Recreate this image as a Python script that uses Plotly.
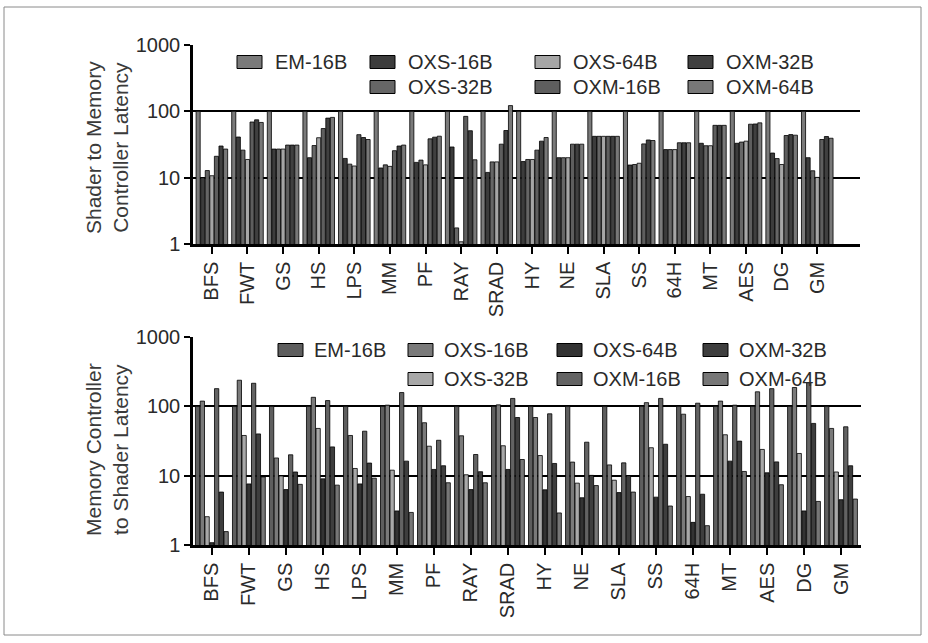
import plotly.graph_objects as go

categories = ["BFS", "FWT", "GS", "HS", "LPS", "MM", "PF", "RAY", "SRAD",
              "HY", "NE", "SLA", "SS", "64H", "MT", "AES", "DG", "GM"]
series_names = ["EM-16B", "OXS-16B", "OXS-32B", "OXS-64B", "OXM-16B", "OXM-32B", "OXM-64B"]

# Shader to Memory Controller latency (top)
top_em16 = [100] * 18
top_oxs16 = [10, 41, 27, 20, 19.5, 14, 17, 29, 12, 17.5, 20, 42, 15.5, 26.5, 33, 33, 23.5, 20]
top_oxs32 = [12.8, 26, 27, 30.5, 16, 15.6, 18.4, 1.75, 17.3, 18.8, 20, 42, 15.8, 26.5, 30.3, 34.4, 19.4, 12.7]
top_oxs64 = [10.7, 18.8, 27, 40, 15, 14.8, 15.6, 1.08, 17.3, 18.8, 20, 42, 16.5, 26.5, 30.3, 35.5, 15.8, 10.1]
top_oxm16 = [21, 69, 31, 55, 44.5, 25.5, 38.5, 84, 32, 26, 32, 42, 32.3, 33.6, 61.5, 64, 43.2, 37.6]
top_oxm32 = [30, 74.5, 31, 79, 40.3, 30, 40.8, 51, 51.4, 35.5, 32, 42, 37, 33.6, 61.5, 64.5, 44.6, 41.7]
top_oxm64 = [27, 68, 31, 81, 37.6, 31, 42.2, 18.6, 122, 40.3, 32, 42, 36.3, 33.6, 61.5, 67, 43.7, 39.3]

# Memory Controller to Shader latency (bottom)
bot_em16 = [100] * 18
bot_oxs16 = [119, 238, 18, 135, 38, 104, 58, 37.6, 105, 69, 15.7, 14.3, 113, 77, 119, 162, 187, 48]
bot_oxs32 = [2.56, 38, 9.9, 48, 12.7, 12, 26.6, 10.3, 27, 19.5, 7.8, 8.6, 25.3, 5, 38.9, 23.9, 20.9, 11.3]
bot_oxs64 = [1.08, 7.6, 6.3, 9, 7.6, 3.1, 12.3, 6.3, 12.3, 6.25, 4.8, 5.7, 4.9, 2.12, 16.2, 11, 3.1, 4.5]
bot_oxm16 = [180, 215, 20, 121, 43.8, 158, 32.4, 20.2, 130, 78, 30.4, 15.3, 130, 111, 104, 180, 220, 50.7]
bot_oxm32 = [5.8, 40, 11.3, 26, 15.2, 16.2, 13.9, 11.4, 69, 15, 10.1, 10, 28.4, 5.4, 31.5, 15.8, 56.7, 13.9]
bot_oxm64 = [1.56, 9.6, 7.5, 7.3, 9.2, 2.95, 7.9, 7.9, 17.1, 2.9, 7.2, 5.8, 3.65, 1.9, 11.5, 7.4, 4.25, 4.6]

top_values = [top_em16, top_oxs16, top_oxs32, top_oxs64, top_oxm16, top_oxm32, top_oxm64]
bot_values = [bot_em16, bot_oxs16, bot_oxs32, bot_oxs64, bot_oxm16, bot_oxm32, bot_oxm64]

top_colors = ["#7a7a7a", "#3c3c3c", "#666666", "#a6a6a6", "#5e5e5e", "#404040", "#787878"]
bot_colors = ["#5e5e5e", "#7a7a7a", "#a8a8a8", "#333333", "#636363", "#3e3e3e", "#777777"]

y_tickvals = [1, 10, 100, 1000]
y_ticktext = ["1", "10", "100", "1000"]

W, H = 928, 643
FONT = "Liberation Sans, Arial, sans-serif"
TXT = "#2a2a2a"

def px(x):
    return x / W

def py(y):
    return 1 - y / H

fig = go.Figure()
for name, vals, col in zip(series_names, top_values, top_colors):
    fig.add_trace(go.Bar(x=categories, y=vals, name=name, marker=dict(color=col, line=dict(color="black", width=0.8)),
                         xaxis="x", yaxis="y", showlegend=False))
for name, vals, col in zip(series_names, bot_values, bot_colors):
    fig.add_trace(go.Bar(x=categories, y=vals, name=name, marker=dict(color=col, line=dict(color="black", width=0.8)),
                         xaxis="x2", yaxis="y2", showlegend=False))

common_x = dict(type="category", showgrid=False, showline=True, linecolor="black", linewidth=2.5,
                ticks="outside", ticklen=7, tickwidth=2, tickcolor="black", tickangle=-90,
                tickfont=dict(family=FONT, size=20, color=TXT), mirror=False, zeroline=False,
                fixedrange=True, automargin=False)
common_y = dict(type="log", range=[0, 3], tickvals=y_tickvals, ticktext=y_ticktext,
                showgrid=True, gridcolor="black", gridwidth=2, showline=True, linecolor="black", linewidth=2.5,
                ticks="outside", ticklen=6, tickwidth=2, tickcolor="black",
                tickfont=dict(family=FONT, size=20, color=TXT), zeroline=False, fixedrange=True,
                automargin=False)

fig.update_layout(
    template="none",
    width=W, height=H, autosize=False,
    margin=dict(l=0, r=0, t=0, b=0, pad=0, autoexpand=False),
    paper_bgcolor="white", plot_bgcolor="white",
    barmode="group", bargap=0.1, bargroupgap=0.1,
    showlegend=False,
    xaxis=dict(common_x, domain=[px(193), px(860)], range=[-0.53, 18.2], anchor="y"),
    yaxis=dict(common_y, domain=[py(244), py(45)], anchor="x"),
    xaxis2=dict(common_x, domain=[px(193), px(861)], range=[-0.51, 17.54], anchor="y2"),
    yaxis2=dict(common_y, domain=[py(545), py(337)], anchor="x2"),
)

shapes = []
annotations = []

# outer frame
shapes.append(dict(type="rect", xref="paper", yref="paper", x0=px(4), y0=py(635), x1=px(921), y1=py(7),
                   line=dict(color="#8a8a8a", width=1), fillcolor="rgba(0,0,0,0)", layer="below"))

# y-axis titles
annotations.append(dict(text="Shader to Memory<br>Controller Latency", xref="paper", yref="paper",
                        x=px(107), y=py(148), textangle=-90, showarrow=False,
                        font=dict(family=FONT, size=21, color="#3a3a3a"), xanchor="center", yanchor="middle"))
annotations.append(dict(text="Memory Controller<br>to Shader Latency", xref="paper", yref="paper",
                        x=px(107), y=py(450), textangle=-90, showarrow=False,
                        font=dict(family=FONT, size=21, color="#3a3a3a"), xanchor="center", yanchor="middle"))

# custom legends (column-major, 2 rows, first column has one entry)
slots = [(0, 0), (1, 0), (1, 1), (2, 0), (2, 1), (3, 0), (3, 1)]
def add_legend(colors, col_x, row_y, text_off):
    for name, col, (c, r) in zip(series_names, colors, slots):
        x0 = col_x[c]
        yc = row_y[r]
        shapes.append(dict(type="rect", xref="paper", yref="paper", x0=px(x0), x1=px(x0 + 25),
                           y0=py(yc + 6.5), y1=py(yc - 6.5), fillcolor=col,
                           line=dict(color="black", width=1), layer="above"))
        annotations.append(dict(text=name, xref="paper", yref="paper", x=px(x0 + text_off), y=py(yc),
                                xanchor="left", yanchor="middle", showarrow=False,
                                font=dict(family=FONT, size=20, color=TXT)))

add_legend(top_colors, [237, 370, 535, 688], [62, 87], 36)
add_legend(bot_colors, [278, 408, 557, 703], [350, 379], 34)

fig.update_layout(shapes=shapes, annotations=annotations)
fig.write_html("out.html", config={"displayModeBar": False},
               post_script="document.body.style.margin='0px';")
